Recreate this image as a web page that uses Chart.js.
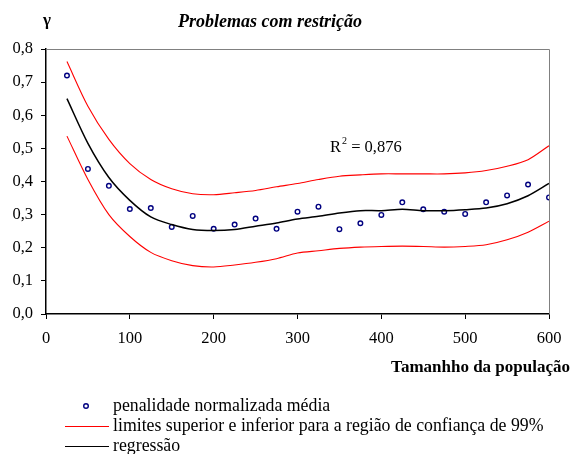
<!DOCTYPE html>
<html>
<head>
<meta charset="utf-8">
<script src="https://cdn.jsdelivr.net/npm/chart.js@4"></script>
<style>
html,body{margin:0;padding:0;background:#fff;}
#wrap{position:relative;width:572px;height:454px;}
</style>
</head>
<body>
<div id="wrap"><canvas id="c" width="572" height="454"></canvas></div>
<script>
const popSizes = [25,50,75,100,125,150,175,200,225,250,275,300,325,350,375,400,425,450,475,500,525,550,575,600];
const meanPenalty = [0.720,0.438,0.387,0.317,0.320,0.263,0.296,0.257,0.270,0.288,0.257,0.309,0.324,0.256,0.274,0.299,0.337,0.316,0.309,0.302,0.337,0.358,0.391,0.352];
const regression = [0.650,0.515,0.412,0.343,0.293,0.270,0.255,0.252,0.255,0.265,0.275,0.287,0.295,0.305,0.312,0.312,0.316,0.312,0.312,0.315,0.320,0.333,0.357,0.394];
const upperLimit = [0.762,0.627,0.527,0.454,0.406,0.378,0.363,0.360,0.366,0.373,0.384,0.394,0.406,0.416,0.420,0.423,0.423,0.423,0.423,0.426,0.433,0.446,0.466,0.508];
const lowerLimit = [0.537,0.406,0.300,0.234,0.186,0.161,0.146,0.142,0.148,0.156,0.167,0.184,0.191,0.198,0.202,0.204,0.205,0.204,0.202,0.204,0.209,0.224,0.247,0.280];
const xTicks = [0,100,200,300,400,500,600];
const yTicks = [0,0.1,0.2,0.3,0.4,0.5,0.6,0.7,0.8];

const chartTitle = "Problemas com restrição";
const yTitle = "γ";
const xTitle = "Tamanhho da população";
const r2Label = "R";
const r2Value = " = 0,876";
const legendLabels = ["penalidade normalizada média","limites superior e inferior para a região de confiança de 99%","regressão"];

const pts = arr => popSizes.map((x,i)=>({x:x,y:arr[i]}));
const SERIF = "'Liberation Serif','Times New Roman',serif";

const overlay = {
  id:'overlay',
  afterDraw(chart){
    const ctx = chart.ctx, a = chart.chartArea;
    ctx.save();
    // top & right border of plot box
    ctx.strokeStyle = '#808080';
    ctx.lineWidth = 1;
    ctx.beginPath();
    ctx.moveTo(a.left, a.top+0.5); ctx.lineTo(a.right+0.5, a.top+0.5);
    ctx.lineTo(a.right+0.5, a.bottom);
    ctx.stroke();
    ctx.fillStyle = '#000';
    ctx.textBaseline = 'middle';
    // title
    ctx.font = "bold italic 18px " + SERIF;
    ctx.textAlign = 'center';
    ctx.fillText(chartTitle, 270, 22);
    // gamma
    ctx.font = "bold 17px " + SERIF;
    ctx.fillText(yTitle, 47, 21);
    // x title
    ctx.textAlign = 'right';
    ctx.font = "bold 17px " + SERIF;
    ctx.fillText(xTitle, 570, 368);
    // R2
    ctx.textAlign = 'left';
    ctx.font = "16.5px " + SERIF;
    ctx.fillText(r2Label, 330, 148);
    const rw = ctx.measureText(r2Label).width;
    ctx.font = "10px " + SERIF;
    ctx.fillText("2", 330+rw+1, 141);
    ctx.font = "16.5px " + SERIF;
    ctx.fillText(r2Value, 330+rw+6, 148);
    // legend
    ctx.font = "17.8px " + SERIF;
    ctx.fillText(legendLabels[0], 113, 406);
    ctx.fillText(legendLabels[1], 113, 426);
    ctx.fillText(legendLabels[2], 113, 446);
    ctx.beginPath();
    ctx.arc(86, 406, 2.3, 0, Math.PI*2);
    ctx.fillStyle = '#fff'; ctx.fill();
    ctx.strokeStyle = '#000080'; ctx.lineWidth = 1.4; ctx.stroke();
    ctx.strokeStyle = '#ff0000'; ctx.lineWidth = 1;
    ctx.beginPath(); ctx.moveTo(65, 426.5); ctx.lineTo(109, 426.5); ctx.stroke();
    ctx.strokeStyle = '#000'; ctx.lineWidth = 1.2;
    ctx.beginPath(); ctx.moveTo(65, 446.5); ctx.lineTo(109, 446.5); ctx.stroke();
    ctx.restore();
  }
};

new Chart(document.getElementById('c'), {
  type:'scatter',
  data:{
    datasets:[
      {label:'upper', data:pts(upperLimit), showLine:true, borderColor:'#ff0000', borderWidth:1.1, pointRadius:0, tension:0.3, fill:false},
      {label:'lower', data:pts(lowerLimit), showLine:true, borderColor:'#ff0000', borderWidth:1.1, pointRadius:0, tension:0.3, fill:false},
      {label:'regressão', data:pts(regression), showLine:true, borderColor:'#000000', borderWidth:1.5, pointRadius:0, tension:0.3, fill:false},
      {label:'média', data:pts(meanPenalty), showLine:false, pointRadius:2.3, pointBackgroundColor:'#ffffff', pointBorderColor:'#000080', pointBorderWidth:1.4}
    ]
  },
  options:{
    responsive:false,
    animation:false,
    events:[],
    layout:{padding:{top:49,right:23,left:0,bottom:0}},
    plugins:{legend:{display:false}, title:{display:false}, tooltip:{enabled:false}},
    scales:{
      x:{
        type:'linear', min:0, max:600,
        afterBuildTicks(s){ s.ticks = xTicks.map(v=>({value:v})); },
        afterFit(s){ s.height = 140; },
        border:{display:true,color:'#000',width:1.5},
        grid:{display:true, drawOnChartArea:false, drawTicks:true, tickLength:5, color:'#000', tickWidth:1},
        ticks:{color:'#000', font:{family:SERIF,size:16.5}, padding:10, maxRotation:0, callback:v=>String(v)}
      },
      y:{
        type:'linear', min:0, max:0.8,
        afterBuildTicks(s){ s.ticks = yTicks.map(v=>({value:v})); },
        afterFit(s){ s.width = 46; },
        border:{display:true,color:'#000',width:1.5},
        grid:{display:true, drawOnChartArea:false, drawTicks:true, tickLength:5, color:'#000', tickWidth:1},
        ticks:{color:'#000', font:{family:SERIF,size:16.5}, padding:8, callback:v=>v.toFixed(1).replace('.',',')}
      }
    }
  },
  plugins:[overlay]
});
</script>
</body>
</html>
